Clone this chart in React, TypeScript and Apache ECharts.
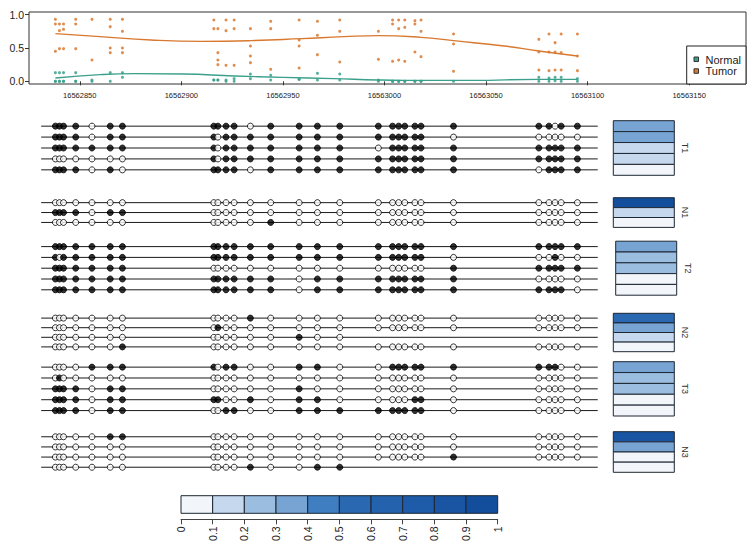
import React, { useEffect, useRef } from "react";
import * as echarts from "echarts";

// ---------- DATA ----------
const cpgPositions = [
  16562838, 16562840, 16562842, 16562848, 16562856, 16562865, 16562871,
  16562916, 16562918, 16562922, 16562926, 16562934, 16562944, 16562958, 16562967, 16562978,
  16562997, 16563004, 16563007, 16563010, 16563015, 16563018, 16563034,
  16563076, 16563081, 16563084, 16563087, 16563095,
];

const tumorValues = [
  [0.93, 0.86, 0.45], [0.86, 0.76, 0.49], [0.86, 0.78, 0.49], [0.93, 0.86, 0.49],
  [0.93, 0.32], [0.93, 0.82, 0.5, 0.43], [0.93, 0.75, 0.5, 0.43],
  [0.92, 0.79], [0.79, 0.43, 0.32, 0.25], [0.92, 0.76, 0.24], [0.92, 0.79, 0.24],
  [0.79, 0.53, 0.38, 0.28], [0.9, 0.79, 0.18], [0.92, 0.62, 0.53, 0.2], [0.9, 0.69, 0.4],
  [0.92, 0.75, 0.29],
  [0.75, 0.33], [0.92, 0.86, 0.3], [0.92, 0.79, 0.32], [0.92, 0.81, 0.3], [0.91, 0.86, 0.44],
  [0.92, 0.75, 0.37], [0.71, 0.56, 0.15],
  [0.63, 0.44, 0.17], [0.71, 0.44, 0.16], [0.58, 0.44, 0.17], [0.71, 0.43, 0.17], [0.71, 0.38, 0.16],
];

const normalValues = [
  [0.13, 0, 0], [0.13, 0, 0], [0.13, 0, 0], [0.13, 0, 0], [0.02, 0], [0.13, 0], [0.13, 0.06],
  [0.02, 0.02], [0.02, 0.02], [0.02, 0], [0.04, 0], [0.11, 0.04], [0.09, 0.02], [0.03, 0.03],
  [0.12, 0.02], [0.11, 0.02],
  [0.02, 0], [0, 0], [0, 0], [0, 0], [0, 0], [0, 0], [0],
  [0.06, 0], [0.05, 0], [0.06, 0.01], [0.06, 0], [0.04, 0],
];

const tumorCurve = [
  [16562838, 0.715], [16562860, 0.67], [16562885, 0.62], [16562910, 0.6], [16562934, 0.61],
  [16562959, 0.64], [16562980, 0.67], [16562997, 0.685], [16563018, 0.66], [16563034, 0.61],
  [16563059, 0.53], [16563076, 0.455], [16563095, 0.38],
];
const normalCurve = [
  [16562838, 0.05], [16562860, 0.1], [16562877, 0.115], [16562901, 0.11], [16562926, 0.08],
  [16562950, 0.06], [16562975, 0.04], [16562997, 0.02], [16563010, 0.015], [16563043, 0.015],
  [16563076, 0.03], [16563095, 0.03],
];

const xTicks = [16562850, 16562900, 16562950, 16563000, 16563050, 16563100, 16563150];
const yTicks = [0, 0.5, 1];
const legendNames = ["Normal", "Tumor"];

const groupNames = ["T1", "N1", "T2", "N2", "T3", "N3"];
// 1 = methylated (filled), 0 = unmethylated (open), - = no call
const readsT1 = [
  "1111011 111101111 1111111 11011",
  "1111011 101111111 1111110 00000",
  "1111111 101111111 0111111 11111",
  "0000000 101111111 1111111 11111",
  "1111010 111101111 1111111 01111",
];
const readsN1 = [
  "0000000 000000000 0000000 00000",
  "1111011 000000000 0000000 00000",
  "0000000 000001000 0000000 00000",
];
const readsT2 = [
  "1111111 111111111 1111111 11111",
  "1011111 111111111 1111110 00100",
  "1111111 000000000 0000001 11111",
  "1111111 111111011 1111111 00000",
  "1111111 111111011 1111111 11110",
];
const readsN2 = [
  "0000000 000010000 0000000 00000",
  "0000000 010000000 0000000 00000",
  "0000000 000000100 ------- -----",
  "0000001 000000000 0000000 00000",
];
const readsT3 = [
  "0000111 101100110 0111111 11100",
  "0100000 000000000 0000000 00000",
  "1111011 000000100 0000000 00000",
  "1111011 110010110 0000110 00000",
  "1111011 001100111 1111110 00000",
];
const readsN3 = [
  "0000011 000000000 0000000 00000",
  "0000000 000000000 0000000 00000",
  "0000000 000000000 0000001 00000",
  "0000000 000010011 ------- -----",
];

const heatT1 = [0.35, 0.35, 0.15, 0.15, 0.05];
const heatN1 = [0.95, 0.15, 0.05];
const heatT2 = [0.35, 0.25, 0.25, 0.05, 0.05];
const heatN2 = [0.55, 0.35, 0.15, 0.05];
const heatT3 = [0.35, 0.25, 0.25, 0.05, 0.05];
const heatN3 = [0.85, 0.35, 0.05, 0.05];

const lineStart = 16562831;
const lineEnd = 16563105;

const colorBreaks = [0, 0.1, 0.2, 0.3, 0.4, 0.5, 0.6, 0.7, 0.8, 0.9, 1];
const colorBarColors = [
  "#F2F6FB", "#C5D8EE", "#9BBDE0", "#78A4D4", "#3E7EC1",
  "#2A68B1", "#2462AD", "#1E5BA8", "#1955A2", "#124E9B",
];

// ---------- LAYOUT ----------
const FONT = "'Liberation Sans', Arial, Helvetica, sans-serif";
const X_MIN = 16562825;
const X_MAX = 16563178;
const PLOT_LEFT = 29;
const PLOT_W = 717;
const groupTop = [120.7, 197.7, 241.2, 313.3, 361.7, 431.7];
const groupRowH = [10.92, 9.9, 10.8, 9.6, 10.86, 10.15];
const heatLeft = [613.3, 613.3, 615.7, 613.3, 613.3, 613.3];
const HEAT_W = 61;
const ORANGE = "#D9782F";
const TEAL = "#3AA08C";

const parseReads = (rows: string[]) =>
  rows.map((r) =>
    r.replace(/\s/g, "").split("").map((c) => (c === "1" ? 1 : c === "0" ? 0 : null))
  );

const colorFor = (v: number) => {
  let i = Math.floor(v * 10);
  if (i > 9) i = 9;
  if (i < 0) i = 0;
  return colorBarColors[i];
};

export default function App() {
  const ref = useRef<HTMLDivElement>(null);

  useEffect(() => {
    if (!ref.current) return;
    const chart = echarts.init(ref.current, undefined, { renderer: "svg" });

    const groupReads = [readsT1, readsN1, readsT2, readsN2, readsT3, readsN3].map(parseReads);
    const groupHeat = [heatT1, heatN1, heatT2, heatN2, heatT3, heatN3];

    const grids: any[] = [];
    const xAxes: any[] = [];
    const yAxes: any[] = [];
    const series: any[] = [];
    const graphics: any[] = [];

    // top plot
    grids.push({
      left: PLOT_LEFT, top: 12, width: PLOT_W, height: 72,
      show: true, borderColor: "#333", borderWidth: 1, backgroundColor: "transparent",
    });
    xAxes.push({
      type: "value", gridIndex: 0, min: X_MIN, max: X_MAX,
      axisLine: { show: false },
      axisTick: { show: true, length: 4, customValues: xTicks, lineStyle: { color: "#333" } },
      axisLabel: {
        customValues: xTicks, fontSize: 7.5, margin: 7, color: "#222", fontFamily: FONT,
        formatter: (v: number) => String(v),
      },
      splitLine: { show: false },
    });
    yAxes.push({
      type: "value", gridIndex: 0, min: -0.04, max: 1.04,
      axisLine: { show: false },
      axisTick: { show: true, length: 4, customValues: yTicks, lineStyle: { color: "#333" } },
      axisLabel: {
        customValues: yTicks, fontSize: 10.5, margin: 5, color: "#222", fontFamily: FONT,
        formatter: (v: number) => v.toFixed(1),
      },
      splitLine: { show: false },
    });

    const tumorPts: number[][] = [];
    const normalPts: number[][] = [];
    cpgPositions.forEach((p, i) => {
      tumorValues[i].forEach((v) => tumorPts.push([p, v]));
      normalValues[i].forEach((v) => normalPts.push([p, v]));
    });

    series.push({
      type: "scatter", name: legendNames[1], xAxisIndex: 0, yAxisIndex: 0,
      data: tumorPts, symbolSize: 3, itemStyle: { color: ORANGE, opacity: 0.85 },
    });
    series.push({
      type: "scatter", name: legendNames[0], xAxisIndex: 0, yAxisIndex: 0,
      data: normalPts, symbolSize: 3, itemStyle: { color: TEAL, opacity: 0.85 },
    });
    series.push({
      type: "line", xAxisIndex: 0, yAxisIndex: 0, data: tumorCurve, smooth: true,
      showSymbol: false, lineStyle: { color: ORANGE, width: 1.4 },
    });
    series.push({
      type: "line", xAxisIndex: 0, yAxisIndex: 0, data: normalCurve, smooth: true,
      showSymbol: false, lineStyle: { color: TEAL, width: 1.4 },
    });

    // lollipop groups
    groupNames.forEach((name, g) => {
      const reads = groupReads[g];
      const n = reads.length;
      const h = n * groupRowH[g];
      const top = groupTop[g];
      const rowCats = reads.map((_, i) => String(i));

      // lollipop grid
      const lgi = grids.length;
      grids.push({ left: PLOT_LEFT, top, width: PLOT_W, height: h });
      xAxes.push({ type: "value", gridIndex: lgi, min: X_MIN, max: X_MAX, show: false });
      yAxes.push({ type: "category", gridIndex: lgi, data: rowCats, inverse: true, show: false });

      series.push({
        type: "custom", xAxisIndex: lgi, yAxisIndex: lgi, z: 1,
        data: reads.map((_, i) => [lineStart, i, lineEnd]),
        encode: { x: 0, y: 1 },
        renderItem: (params: any, api: any) => {
          const a = api.coord([api.value(0), api.value(1)]);
          const b = api.coord([api.value(2), api.value(1)]);
          return {
            type: "line",
            shape: { x1: a[0], y1: a[1], x2: b[0], y2: b[1] },
            style: { stroke: "#1a1a1a", lineWidth: 1 },
          };
        },
      });

      const circles: any[] = [];
      reads.forEach((row, i) => {
        row.forEach((m, j) => {
          if (m === null) return;
          circles.push({
            value: [cpgPositions[j], i],
            itemStyle: { color: m === 1 ? "#000" : "#fff" },
          });
        });
      });
      series.push({
        type: "scatter", xAxisIndex: lgi, yAxisIndex: lgi, z: 2,
        data: circles, symbolSize: 6,
        itemStyle: { borderColor: "#000", borderWidth: 1 },
      });

      // heat grid
      const hgi = grids.length;
      grids.push({ left: heatLeft[g], top, width: HEAT_W, height: h });
      xAxes.push({ type: "category", gridIndex: hgi, data: ["m"], show: false });
      yAxes.push({ type: "category", gridIndex: hgi, data: rowCats, inverse: true, show: false });
      series.push({
        type: "custom", xAxisIndex: hgi, yAxisIndex: hgi,
        data: groupHeat[g].map((v, i) => [0, i, v]),
        encode: { x: 0, y: 1 },
        renderItem: (params: any, api: any) => {
          const c = api.coord([api.value(0), api.value(1)]);
          const s = api.size([1, 1]);
          return {
            type: "rect",
            shape: { x: c[0] - s[0] / 2, y: c[1] - s[1] / 2, width: s[0], height: s[1] },
            style: { fill: colorFor(api.value(2)), stroke: "#1d2733", lineWidth: 1 },
          };
        },
      });

      graphics.push({
        type: "text",
        x: heatLeft[g] + HEAT_W + 11,
        y: top + h / 2,
        rotation: -Math.PI / 2,
        style: {
          text: name, fontSize: 9, fontFamily: FONT, fill: "#333",
          align: "center", verticalAlign: "middle",
        },
      });
    });

    // colour bar
    const cgi = grids.length;
    grids.push({ left: 181, top: 495.7, width: 316.7, height: 17.6 });
    xAxes.push({
      type: "value", gridIndex: cgi, min: 0, max: 1, interval: 0.1, offset: 6,
      axisLine: { show: true, lineStyle: { color: "#444", width: 1 } },
      axisTick: { show: true, length: 5, lineStyle: { color: "#444" } },
      axisLabel: {
        rotate: 90, fontSize: 10.5, margin: 7, color: "#222", fontFamily: FONT,
        formatter: (v: number) => (v === 0 ? "0" : v === 1 ? "1" : v.toFixed(1)),
      },
      splitLine: { show: false },
    });
    yAxes.push({ type: "category", gridIndex: cgi, data: ["c"], show: false });
    series.push({
      type: "custom", xAxisIndex: cgi, yAxisIndex: cgi,
      data: colorBarColors.map((_, i) => [colorBreaks[i], 0, colorBreaks[i + 1], i]),
      encode: { x: [0, 2], y: 1 },
      renderItem: (params: any, api: any) => {
        const a = api.coord([api.value(0), 0]);
        const b = api.coord([api.value(2), 0]);
        const s = api.size([0, 1]);
        return {
          type: "rect",
          shape: { x: a[0], y: a[1] - s[1] / 2, width: b[0] - a[0], height: s[1] },
          style: { fill: colorBarColors[api.value(3)], stroke: "#1d2733", lineWidth: 1 },
        };
      },
    });

    // legend (top plot)
    graphics.push({
      type: "rect", z: 100,
      shape: { x: 686.7, y: 46, width: 59.3, height: 38 },
      style: { fill: "#fff", stroke: "#222", lineWidth: 1 },
    });
    [TEAL, ORANGE].forEach((col, i) => {
      graphics.push({
        type: "rect", z: 101,
        shape: { x: 694, y: 57 + i * 11.8, width: 4.5, height: 4.5 },
        style: { fill: col, stroke: "#333", lineWidth: 1 },
      });
      graphics.push({
        type: "text", z: 101, x: 705.5, y: 59.5 + i * 11.8,
        style: {
          text: legendNames[i], fontSize: 11, fontFamily: FONT, fill: "#222",
          verticalAlign: "middle",
        },
      });
    });

    chart.setOption({
      animation: false,
      backgroundColor: "#fff",
      textStyle: { fontFamily: FONT },
      grid: grids,
      xAxis: xAxes,
      yAxis: yAxes,
      series,
      graphic: graphics,
    });

    return () => chart.dispose();
  }, []);

  return (
    <div
      ref={ref}
      style={{ position: "fixed", left: 0, top: 0, width: 755, height: 554, background: "#fff" }}
    />
  );
}
